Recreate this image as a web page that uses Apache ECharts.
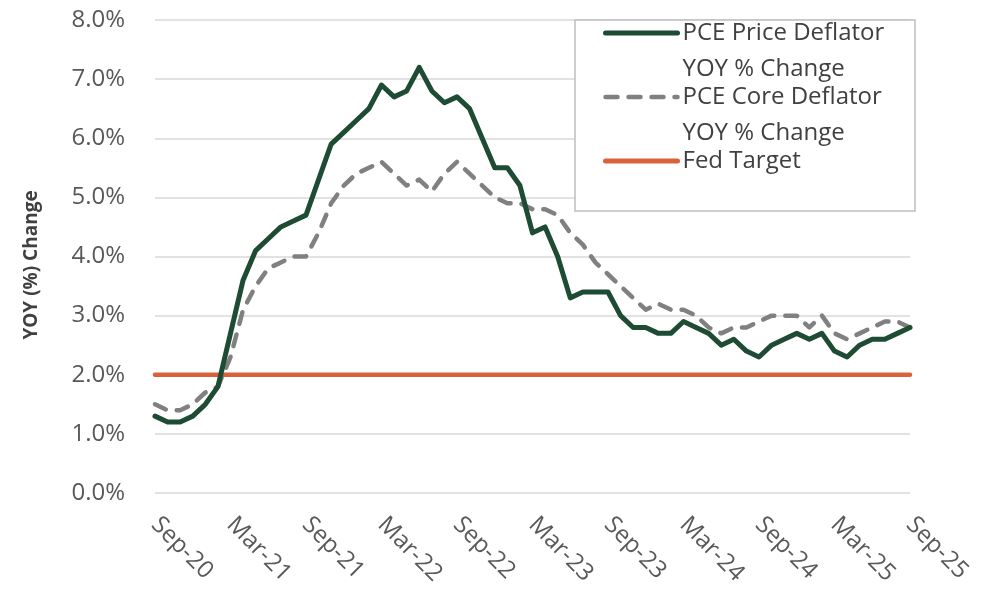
<!DOCTYPE html>
<html>
<head>
<meta charset="utf-8">
<script src="https://cdn.jsdelivr.net/npm/echarts@6/dist/echarts.min.js"></script>
<style>
  html, body { margin: 0; padding: 0; background: #fff; }
  #chart { width: 989px; height: 591px; }
</style>
</head>
<body>
<div id="chart"></div>
<script>
// monthly categories, Sep-20 .. Sep-25
const months = [
  'Sep-20','Oct-20','Nov-20','Dec-20','Jan-21','Feb-21','Mar-21','Apr-21','May-21','Jun-21','Jul-21','Aug-21',
  'Sep-21','Oct-21','Nov-21','Dec-21','Jan-22','Feb-22','Mar-22','Apr-22','May-22','Jun-22','Jul-22','Aug-22',
  'Sep-22','Oct-22','Nov-22','Dec-22','Jan-23','Feb-23','Mar-23','Apr-23','May-23','Jun-23','Jul-23','Aug-23',
  'Sep-23','Oct-23','Nov-23','Dec-23','Jan-24','Feb-24','Mar-24','Apr-24','May-24','Jun-24','Jul-24','Aug-24',
  'Sep-24','Oct-24','Nov-24','Dec-24','Jan-25','Feb-25','Mar-25','Apr-25','May-25','Jun-25','Jul-25','Aug-25',
  'Sep-25'
];

const pceHeadline = [
  1.3, 1.2, 1.2, 1.3, 1.5, 1.8, 2.7, 3.6, 4.1, 4.3, 4.5, 4.6,
  4.7, 5.3, 5.9, 6.1, 6.3, 6.5, 6.9, 6.7, 6.8, 7.2, 6.8, 6.6,
  6.7, 6.5, 6.0, 5.5, 5.5, 5.2, 4.4, 4.5, 4.0, 3.3, 3.4, 3.4,
  3.4, 3.0, 2.8, 2.8, 2.7, 2.7, 2.9, 2.8, 2.7, 2.5, 2.6, 2.4,
  2.3, 2.5, 2.6, 2.7, 2.6, 2.7, 2.4, 2.3, 2.5, 2.6, 2.6, 2.7,
  2.8
];

const pceCore = [
  1.5, 1.4, 1.4, 1.5, 1.7, 1.8, 2.3, 3.1, 3.5, 3.8, 3.9, 4.0,
  4.0, 4.4, 4.9, 5.2, 5.4, 5.5, 5.6, 5.4, 5.2, 5.3, 5.1, 5.4,
  5.6, 5.4, 5.2, 5.0, 4.9, 4.9, 4.8, 4.8, 4.7, 4.4, 4.2, 3.9,
  3.7, 3.5, 3.3, 3.1, 3.2, 3.1, 3.1, 3.0, 2.8, 2.7, 2.8, 2.8,
  2.9, 3.0, 3.0, 3.0, 2.8, 3.0, 2.7, 2.6, 2.7, 2.8, 2.9, 2.9,
  2.8
];

const fedTarget = [
  2.0, 2.0, 2.0, 2.0, 2.0, 2.0, 2.0, 2.0, 2.0, 2.0, 2.0, 2.0,
  2.0, 2.0, 2.0, 2.0, 2.0, 2.0, 2.0, 2.0, 2.0, 2.0, 2.0, 2.0,
  2.0, 2.0, 2.0, 2.0, 2.0, 2.0, 2.0, 2.0, 2.0, 2.0, 2.0, 2.0,
  2.0, 2.0, 2.0, 2.0, 2.0, 2.0, 2.0, 2.0, 2.0, 2.0, 2.0, 2.0,
  2.0, 2.0, 2.0, 2.0, 2.0, 2.0, 2.0, 2.0, 2.0, 2.0, 2.0, 2.0,
  2.0
];

const seriesNames = ['PCE Price Deflator\nYOY % Change', 'PCE Core Deflator\nYOY % Change', 'Fed Target'];

const FONT = '"Open Sans", "Noto Sans", sans-serif';
const GREEN = '#1E4B33';
const GREY = '#808080';
const ORANGE = '#D9623A';
const NBSP = '\u00A0';

const chart = echarts.init(document.getElementById('chart'), null, { renderer: 'canvas' });

const option = {
  animation: false,
  backgroundColor: '#ffffff',
  grid: { left: 155, right: 79, top: 20, bottom: 98, containLabel: false },
  graphic: [
    {
      // legend frame
      type: 'rect',
      z: 1,
      shape: { x: 575, y: 20, width: 340, height: 191 },
      style: { fill: '#ffffff', stroke: '#BFBFBF', lineWidth: 1.5 }
    }
  ],
  legend: {
    orient: 'vertical',
    left: 603,
    top: -21,
    padding: 0,
    itemGap: -44,
    itemWidth: 72,
    itemHeight: 14,
    selectedMode: false,
    textStyle: { fontFamily: FONT, fontSize: 24, color: '#404040', lineHeight: 36 },
    // blank lines keep the icon level with the first line of each entry
    formatter: name => name.indexOf('\n') >= 0 ? NBSP + '\n' + name : NBSP + '\n' + name + '\n' + NBSP,
    data: [
      { name: seriesNames[0], itemStyle: { opacity: 0 }, lineStyle: { width: 5, color: GREEN, cap: 'round' } },
      { name: seriesNames[1], itemStyle: { opacity: 0 }, lineStyle: { width: 4.5, color: GREY, type: [12, 11], cap: 'round' } },
      { name: seriesNames[2], itemStyle: { opacity: 0 }, lineStyle: { width: 5, color: ORANGE, cap: 'round' } }
    ]
  },
  xAxis: {
    type: 'category',
    data: months,
    boundaryGap: false,
    axisLine: { show: false },
    axisTick: { show: false },
    axisLabel: {
      interval: 5,
      rotate: -45,
      margin: 28,
      fontFamily: FONT,
      fontSize: 24,
      color: '#595959'
    }
  },
  yAxis: {
    type: 'value',
    min: 0,
    max: 8,
    interval: 1,
    name: 'YOY (%) Change',
    nameLocation: 'middle',
    nameRotate: 90,
    nameGap: 114,
    nameTextStyle: { fontFamily: FONT, fontSize: 19, fontWeight: 'bold', color: '#404040', padding: [0, 17, 0, 0] },
    axisLine: { show: false },
    axisTick: { show: false },
    axisLabel: {
      margin: 30,
      fontFamily: FONT,
      fontSize: 24,
      color: '#595959',
      formatter: v => v.toFixed(1) + '%'
    },
    splitLine: { lineStyle: { color: '#D9D9D9', width: 1.5 } }
  },
  series: [
    {
      name: seriesNames[0],
      type: 'line',
      data: pceHeadline,
      symbol: 'none',
      z: 4,
      lineStyle: { color: GREEN, width: 5, join: 'round', cap: 'round' },
      itemStyle: { color: GREEN }
    },
    {
      name: seriesNames[1],
      type: 'line',
      data: pceCore,
      symbol: 'none',
      z: 3,
      lineStyle: { color: GREY, width: 4.5, type: [12, 11], cap: 'round', join: 'round' },
      itemStyle: { color: GREY }
    },
    {
      name: seriesNames[2],
      type: 'line',
      data: fedTarget,
      symbol: 'none',
      z: 2,
      lineStyle: { color: ORANGE, width: 4.5, cap: 'round' },
      itemStyle: { color: ORANGE }
    }
  ]
};

chart.setOption(option);
</script>
</body>
</html>
